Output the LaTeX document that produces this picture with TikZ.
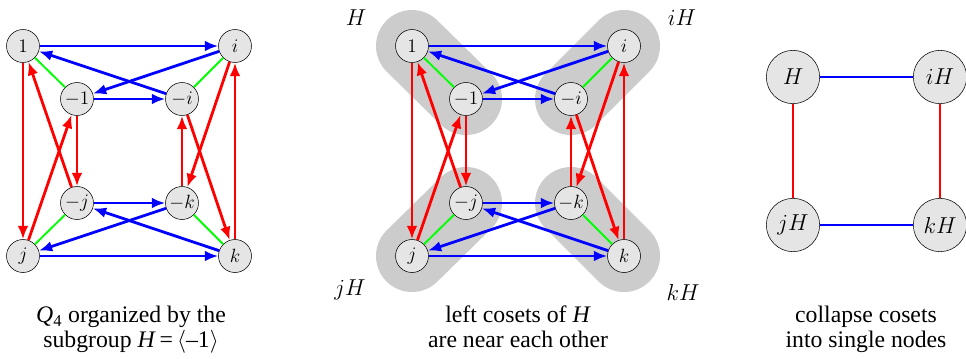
\documentclass[tikz,border=0pt]{standalone}
\usepackage[no-math]{fontspec}
\setmainfont{Liberation Serif}
\usetikzlibrary{arrows.meta,backgrounds}

\begin{document}
\begin{tikzpicture}[x=0.75pt, y=-0.75pt,
    elt/.style={circle, draw, thin, fill=gray!20, inner sep=0pt, minimum size=24.75pt, font=\fontsize{13.5}{16}\selectfont},
    cosetnode/.style={circle, draw, thin, fill=gray!20, inner sep=0pt, minimum size=40pt, font=\fontsize{16}{19}\selectfont},
    igen/.style={blue, line width=2.1pt, -{Latex[length=10pt,width=8pt]}},
    jgen/.style={red, line width=2.1pt, -{Latex[length=10pt,width=8pt]}},
    neg/.style={green, line width=1.4pt},
    blob/.style={gray!40, line width=54pt, line cap=round},
    cosetlab/.style={font=\fontsize{16}{19}\selectfont},
    caption/.style={align=center, anchor=north, inner sep=0pt, font=\fontsize{17.8}{18.75}\selectfont}]
  \useasboundingbox (0,0) rectangle (966,358);

  % the two copies of Q_4
  \foreach \p/\dx in {L/0, M/389} {
    \node[elt] (\p1)  at (23+\dx,46)   {$1$};
    \node[elt] (\p i) at (235+\dx,46)  {$i$};
    \node[elt] (\p m1) at (77+\dx,99)  {$-1$};
    \node[elt] (\p mi) at (182+\dx,99) {$-i$};
    \node[elt] (\p mj) at (77+\dx,203) {$-j$};
    \node[elt] (\p mk) at (182+\dx,203) {$-k$};
    \node[elt] (\p j) at (23+\dx,256)  {$j$};
    \node[elt] (\p k) at (235+\dx,256) {$k$};
    % green: -1
    \draw[neg] (\p1) -- (\p m1);
    \draw[neg] (\p i) -- (\p mi);
    \draw[neg] (\p j) -- (\p mj);
    \draw[neg] (\p k) -- (\p mk);
    % blue: i
    \draw[igen] (\p1) -- (\p i);
    \draw[igen] (\p i) -- (\p m1);
    \draw[igen] (\p m1) -- (\p mi);
    \draw[igen] (\p mi) -- (\p1);
    \draw[igen] (\p j) -- (\p k);
    \draw[igen] (\p k) -- (\p mj);
    \draw[igen] (\p mj) -- (\p mk);
    \draw[igen] (\p mk) -- (\p j);
    % red: j
    \draw[jgen] (\p1) -- (\p j);
    \draw[jgen] (\p j) -- (\p m1);
    \draw[jgen] (\p m1) -- (\p mj);
    \draw[jgen] (\p mj) -- (\p1);
    \draw[jgen] (\p i) -- (\p mk);
    \draw[jgen] (\p mk) -- (\p mi);
    \draw[jgen] (\p mi) -- (\p k);
    \draw[jgen] (\p k) -- (\p i);
  }

  % cosets shaded
  \begin{scope}[on background layer]
    \draw[blob] (M1.center) -- (Mm1.center);
    \draw[blob] (Mi.center) -- (Mmi.center);
    \draw[blob] (Mj.center) -- (Mmj.center);
    \draw[blob] (Mk.center) -- (Mmk.center);
  \end{scope}
  \node[cosetlab] (labH)  at (356,18)  {$H$};
  \node[cosetlab] (labiH) at (682,18)  {$iH$};
  \node[cosetlab] (labjH) at (350,290) {$jH$};
  \node[cosetlab] (labkH) at (683,292) {$kH$};

  % quotient
  \node[cosetnode] (H)  at (793,77)  {$H$};
  \node[cosetnode] (iH) at (940,77)  {$iH$};
  \node[cosetnode] (jH) at (793,225) {$jH$};
  \node[cosetnode] (kH) at (940,225) {$kH$};
  \draw[blue, line width=2.1pt] (H) -- (iH);
  \draw[blue, line width=2.1pt] (jH) -- (kH);
  \draw[red, line width=2.1pt] (H) -- (jH);
  \draw[red, line width=2.1pt] (iH) -- (kH);

  % captions
  \node[caption] (capL) at (131,306) {\textit{Q}\textsubscript{4} organized by the\\subgroup \textit{H}\,=\,$\langle$–1$\rangle$};
  \node[caption] (capM) at (518,306) {left cosets of \textit{H}\\are near each other};
  \node[caption] (capR) at (866,306) {collapse cosets\\into single nodes};
\end{tikzpicture}
\end{document}
